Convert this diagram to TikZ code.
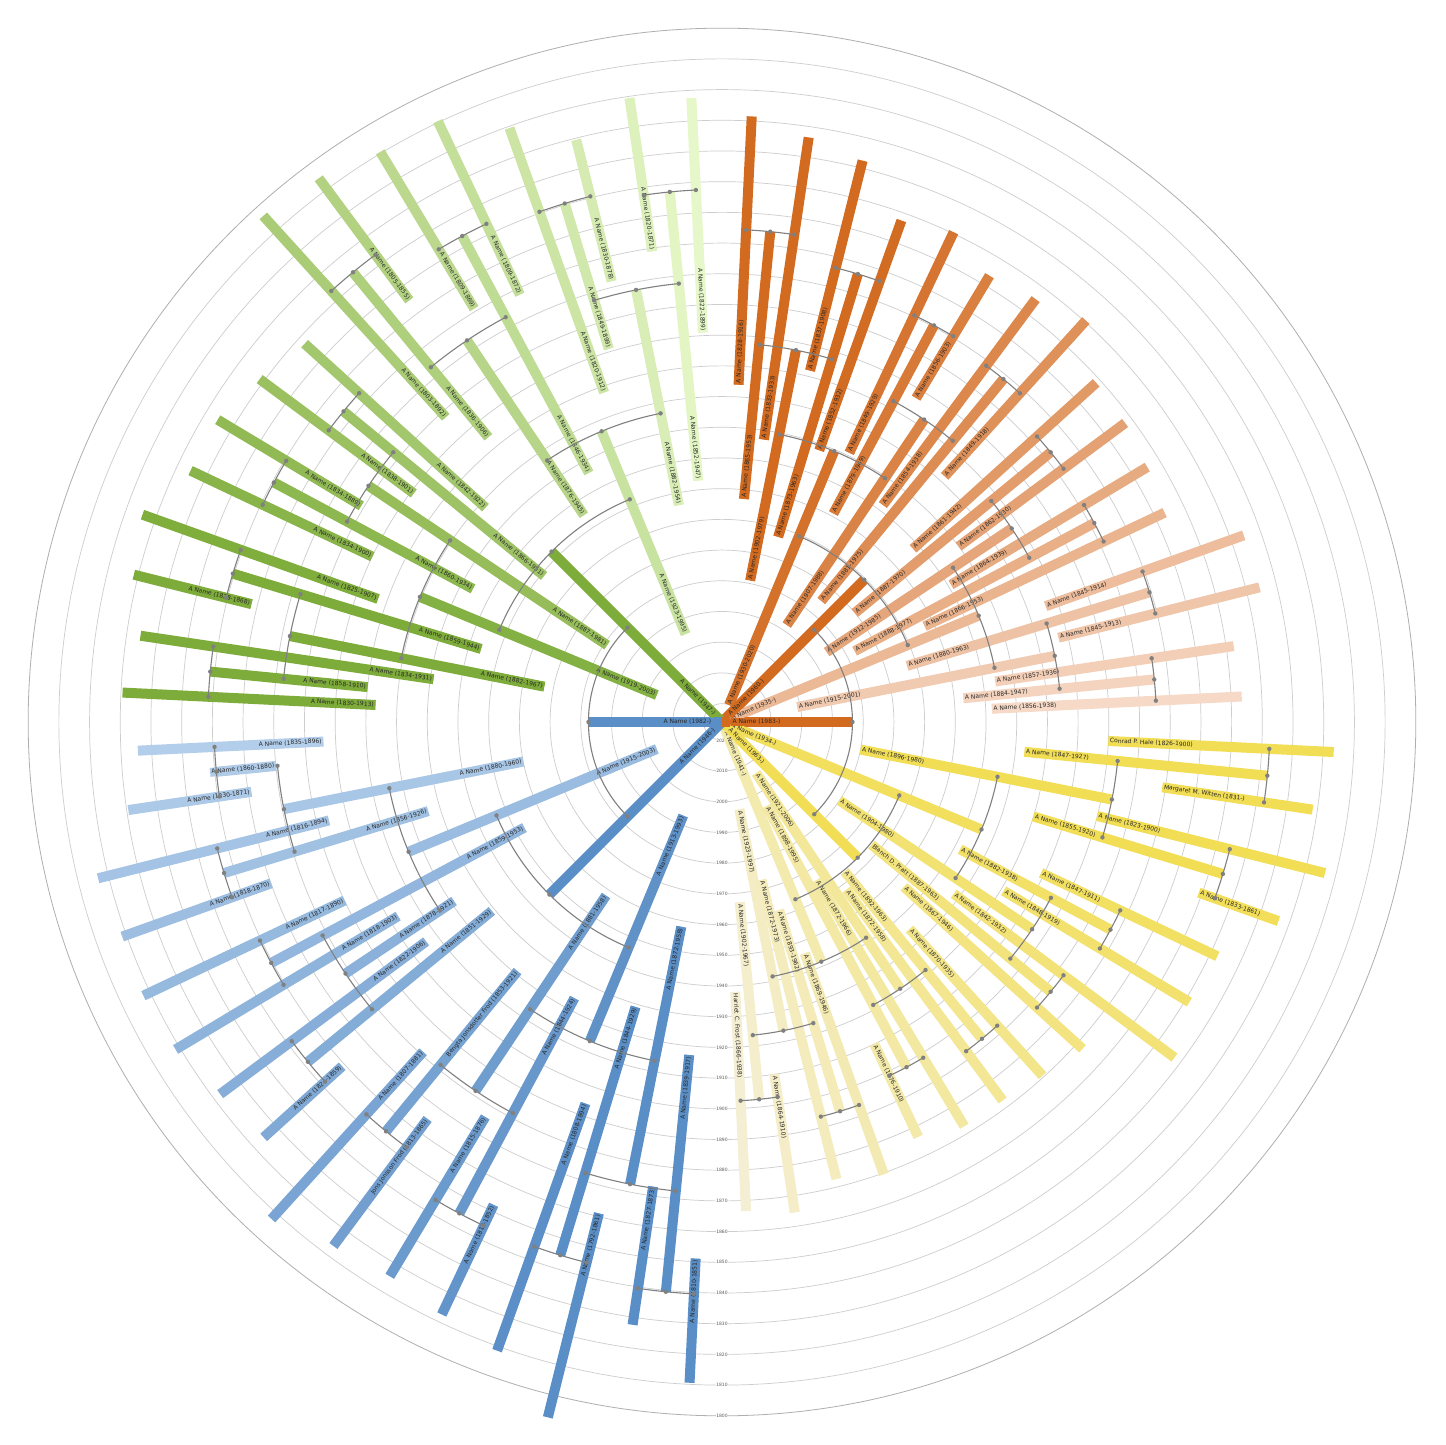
\documentclass[tikz,border=0pt]{standalone}
\usepackage{fontspec}
\setmainfont{DejaVu Sans}
\definecolor{oD}{RGB}{210,106,32}
\definecolor{oL}{RGB}{247,220,203}
\definecolor{yD}{RGB}{242,222,85}
\definecolor{yL}{RGB}{244,239,214}
\definecolor{bD}{RGB}{90,142,198}
\definecolor{bL}{RGB}{182,208,235}
\definecolor{gD}{RGB}{126,172,58}
\definecolor{gL}{RGB}{233,250,205}
\definecolor{connc}{RGB}{128,128,128}
\definecolor{ringc}{RGB}{205,205,205}
\definecolor{outerc}{RGB}{175,175,175}
\definecolor{labtext}{RGB}{40,40,40}
\definecolor{yeartext}{RGB}{90,90,90}
\pgfdeclarelayer{bg}
\pgfdeclarelayer{lab}
\pgfdeclarelayer{conn}
\pgfsetlayers{bg,main,lab,conn}
\tikzset{
  lifebar/.style={line width=10pt},
  lab/.style={font=\fontsize{6}{7}\selectfont, text=labtext, inner xsep=1.5pt, inner ysep=1.6pt, text height=4.5pt, text depth=1.2pt},
  yearlab/.style={font=\fontsize{4.5}{5}\selectfont, text=yeartext, fill=white, inner sep=0.6pt},
  ring/.style={draw=ringc, line width=0.7pt},
  connline/.style={draw=connc, line width=1.1pt},
}
\newcommand{\famperson}[5]{%
  \pgfmathsetmacro\rin{(2026-#3)*3.07}%
  \pgfmathsetmacro\rout{(2025.5-#2)*3.07}%
  \pgfmathsetmacro\rlab{max(\rin,9)}%
  \draw[lifebar,draw=#5] (#1:\rin) -- (#1:\rout);
  \pgfmathsetmacro\cosv{cos(#1)}%
  \begin{pgfonlayer}{lab}
  \ifdim\cosv pt>0pt
    \node[lab,fill=#5,rotate=#1,anchor=west] at (#1:\rlab) {#4};
  \else
    \node[lab,fill=#5,rotate=#1+180,anchor=east] at (#1:\rlab) {#4};
  \fi
  \end{pgfonlayer}
}
\newcommand{\famarc}[3]{%
  \pgfmathsetmacro\arcR{(2025.5-#2)*3.07}%
  \pgfmathsetmacro\arcA{#1-#3}%
  \pgfmathsetmacro\arcB{#1+#3}%
  \begin{pgfonlayer}{conn}
  \draw[connline] (\arcA:\arcR) arc[start angle=\arcA, end angle=\arcB, radius=\arcR];
  \fill[connc] (\arcA:\arcR) circle (2.2) (#1:\arcR) circle (2.2) (\arcB:\arcR) circle (2.2);
  \end{pgfonlayer}
}
\begin{document}
\begin{tikzpicture}[x=1pt,y=1pt]
\useasboundingbox (-722,-723) rectangle (723,722);
\begin{pgfonlayer}{bg}
\fill[white] (-722,-723) rectangle (723,722);
\foreach \yy in {2020,2010,...,1810}{\draw[ring] (0,0) circle ({(2026-\yy)*3.07});}
\draw[draw=outerc, line width=0.8pt] (0,0) circle ({226*3.07});
\foreach \yy in {2020,2010,...,1800}{\node[yearlab] at (0,{-(2026-\yy)*3.07}) {\yy};}
\end{pgfonlayer}

% ---------- orange quadrant ----------
\foreach \a/\b/\d/\t in {
 67.5/1930/2020/{A Name (1930-2020)}, 22.5/1935/2026/{A Name (1935-)},
 78.75/1902/1979/{A Name (1902-1979)}, 56.25/1907/1988/{A Name (1907-1988)},
 33.75/1912/1985/{A Name (1912-1985)}, 11.25/1915/2001/{A Name (1915-2001)},
 84.375/1865/1953/{A Name (1865-1953)}, 73.125/1873/1963/{A Name (1873-1963)},
 61.875/1879/1949/{A Name (1879-1949)}, 50.625/1881/1975/{A Name (1881-1975)},
 39.375/1887/1970/{A Name (1887-1970)}, 28.125/1888/1977/{A Name (1888-1977)},
 16.875/1880/1963/{A Name (1880-1963)}, 5.625/1884/1947/{A Name (1884-1947)},
 87.1875/1828/1916/{A Name (1828-1916)}, 81.5625/1833/1933/{A Name (1833-1933)},
 75.9375/1837/1908/{A Name (1837-1908)}, 70.3125/1852/1932/{A Name (1852-1932)},
 64.6875/1849/1929/{A Name (1849-1929)}, 59.0625/1856/1903/{A Name (1856-1903)},
 53.4375/1854/1938/{A Name (1854-1938)}, 47.8125/1849/1918/{A Name (1849-1918)},
 42.1875/1861/1942/{A Name (1861-1942)}, 36.5625/1862/1930/{A Name (1862-1930)},
 30.9375/1864/1939/{A Name (1864-1939)}, 25.3125/1866/1953/{A Name (1866-1953)},
 19.6875/1845/1914/{A Name (1845-1914)}, 14.0625/1845/1913/{A Name (1845-1913)},
 8.4375/1857/1936/{A Name (1857-1936)}, 2.8125/1856/1938/{A Name (1856-1938)}}{
 \pgfmathtruncatemacro\pc{min(100,1.4*\a)}
 \famperson{\a}{\b}{\d}{\t}{oD!\pc!oL}
}
% ---------- yellow quadrant ----------
\foreach \a/\b/\d/\t in {
 -22.5/1934/2026/{A Name (1934-)}, -67.5/1941/2026/{A Name (1941-)},
 -11.25/1896/1980/{A Name (1896-1980)}, -33.75/1904/1980/{A Name (1904-1980)},
 -56.25/1921/2006/{A Name (1921-2006)}, -78.75/1923/1997/{A Name (1923-1997)},
 -5.625/1847/1927/{A Name (1847-1927)}, -16.875/1855/1920/{A Name (1855-1920)},
 -28.125/1882/1938/{A Name (1882-1938)}, -39.375/1887/1963/{Blanch D. Pratt (1887-1963)},
 -50.625/1892/1963/{A Name (1892-1963)}, -61.875/1898/1995/{A Name (1898-1995)},
 -73.125/1893/1962/{A Name (1893-1962)}, -84.375/1902/1967/{A Name (1902-1967)},
 -2.8125/1826/1900/{Conrad P. Hale (1826-1900)}, -8.4375/1831/1881/{Margaret M. Witten (1831-)},
 -14.0625/1823/1900/{A Name (1823-1900)}, -19.6875/1833/1861/{A Name (1833-1861)},
 -25.3125/1847/1911/{A Name (1847-1911)}, -30.9375/1848/1919/{A Name (1848-1919)},
 -36.5625/1842/1932/{A Name (1842-1932)}, -42.1875/1867/1946/{A Name (1867-1946)},
 -47.8125/1870/1935/{A Name (1870-1935)}, -53.4375/1872/1958/{A Name (1872-1958)},
 -59.0625/1872/1966/{A Name (1872-1966)}, -64.6875/1876/1910/{A Name (1876-1910)},
 -70.3125/1869/1946/{A Name (1869-1946)}, -75.9375/1872/1973/{A Name (1872-1973)},
 -81.5625/1864/1910/{A Name (1864-1910)}, -87.1875/1866/1938/{Harriet C. Frost (1866-1938)}}{
 \pgfmathtruncatemacro\pc{min(100,1.4*(\a+90))}
 \famperson{\a}{\b}{\d}{\t}{yD!\pc!yL}
}
% ---------- blue quadrant ----------
\foreach \a/\b/\d/\t in {
 202.5/1915/2003/{A Name (1915-2003)}, 247.5/1913/1993/{A Name (1913-1993)},
 191.25/1880/1960/{A Name (1880-1960)}, 213.75/1878/1921/{A Name (1878-1921)},
 236.25/1881/1958/{A Name (1881-1958)}, 258.75/1872/1958/{A Name (1872-1958)},
 185.625/1860/1880/{A Name (1860-1880)}, 196.875/1856/1926/{A Name (1856-1926)},
 208.125/1859/1953/{A Name (1859-1953)}, 219.375/1851/1929/{A Name (1851-1929)},
 230.625/1853/1921/{Bengta Jonsdotter Frod (1853-1921)}, 241.875/1844/1924/{A Name (1844-1924)},
 253.125/1844/1929/{A Name (1844-1929)}, 264.375/1839/1917/{A Name (1839-1917)},
 182.8125/1835/1896/{A Name (1835-1896)}, 188.4375/1830/1871/{A Name (1830-1871)},
 194.0625/1816/1894/{A Name (1816-1894)}, 199.6875/1818/1870/{A Name (1818-1870)},
 205.3125/1817/1890/{A Name (1817-1890)}, 210.9375/1818/1903/{A Name (1818-1903)},
 216.5625/1822/1906/{A Name (1822-1906)}, 222.1875/1824/1859/{A Name (1824-1859)},
 227.8125/1807/1881/{A Name (1807-1881)}, 233.4375/1813/1865/{Jons Jonsson Frod (1813-1865)},
 239.0625/1815/1876/{A Name (1815-1876)}, 244.6875/1812/1852/{A Name (1812-1852)},
 250.3125/1808/1894/{A Name (1808-1894)}, 255.9375/1792/1861/{A Name (1792-1861)},
 261.5625/1827/1873/{A Name (1827-1873)}, 267.1875/1810/1851/{A Name (1810-1851)}}{
 \pgfmathtruncatemacro\pc{min(100,1.4*(\a-180))}
 \famperson{\a}{\b}{\d}{\t}{bD!\pc!bL}
}
% ---------- green quadrant ----------
\foreach \a/\b/\d/\t in {
 157.5/1919/2003/{A Name (1919-2003)}, 112.5/1923/1995/{A Name (1923-1995)},
 168.75/1882/1967/{A Name (1882-1967)}, 146.25/1887/1981/{A Name (1887-1981)},
 123.75/1876/1945/{A Name (1876-1945)}, 101.25/1882/1954/{A Name (1882-1954)},
 174.375/1858/1910/{A Name (1858-1910)}, 163.125/1859/1944/{A Name (1859-1944)},
 151.875/1860/1934/{A Name (1860-1934)}, 140.625/1866/1951/{A Name (1866-1951)},
 129.375/1836/1906/{A Name (1836-1906)}, 118.125/1846/1934/{A Name (1846-1934)},
 106.875/1849/1899/{A Name (1849-1899)}, 95.625/1852/1947/{A Name (1852-1947)},
 177.1875/1830/1913/{A Name (1830-1913)}, 171.5625/1834/1931/{A Name (1834-1931)},
 165.9375/1828/1868/{A Name (1828-1868)}, 160.3125/1825/1907/{A Name (1825-1907)},
 154.6875/1834/1900/{A Name (1834-1900)}, 149.0625/1834/1889/{A Name (1834-1889)},
 143.4375/1838/1901/{A Name (1838-1901)}, 137.8125/1842/1922/{A Name (1842-1922)},
 132.1875/1803/1892/{A Name (1803-1892)}, 126.5625/1805/1855/{A Name (1805-1855)},
 120.9375/1809/1869/{A Name (1809-1869)}, 115.3125/1809/1872/{A Name (1809-1872)},
 109.6875/1820/1912/{A Name (1820-1912)}, 104.0625/1830/1878/{A Name (1830-1878)},
 98.4375/1820/1871/{A Name (1820-1871)}, 92.8125/1822/1899/{A Name (1822-1899)}}{
 \pgfmathtruncatemacro\pc{min(100,1.4*(\a-90))}
 \famperson{\a}{\b}{\d}{\t}{gD!\pc!gL}
}
% ---------- parents of the two roots, and the roots ----------
\famperson{-45}{1963}{2026}{A Name (1963-)}{yD}
\famperson{225}{1946}{2026}{A Name (1946-)}{bD}
\famperson{45}{1960}{2026}{A Name (1960-)}{oD}
\famperson{135}{1947}{2026}{A Name (1947-)}{gD}
\famperson{0}{1983}{2026}{A Name (1983-)}{oD}
\famperson{180}{1982}{2026}{A Name (1982-)}{bD}

% ---------- parent connectors ----------
\famarc{0}{1983}{45}
\famarc{180}{1982}{45}
\foreach \a/\b/\w in {45/1960/22.5, -45/1963/22.5, 135/1947/22.5, 225/1946/22.5,
 67.5/1930/11.25, 22.5/1935/11.25, -22.5/1934/11.25, -67.5/1941/11.25,
 157.5/1919/11.25, 112.5/1923/11.25, 202.5/1915/11.25, 247.5/1913/11.25,
 78.75/1902/5.625, 56.25/1907/5.625, 33.75/1912/5.625, 11.25/1915/5.625,
 -11.25/1896/5.625, -33.75/1904/5.625, -56.25/1921/5.625, -78.75/1923/5.625,
 191.25/1880/5.625, 213.75/1878/5.625, 236.25/1881/5.625, 258.75/1872/5.625,
 168.75/1882/5.625, 146.25/1887/5.625, 123.75/1876/5.625, 101.25/1882/5.625}{
 \famarc{\a}{\b}{\w}
}
\foreach \a/\b in {84.375/1865, 73.125/1873, 61.875/1879, 50.625/1881, 39.375/1887, 28.125/1888, 16.875/1880, 5.625/1884,
 -5.625/1847, -16.875/1855, -28.125/1882, -39.375/1887, -50.625/1892, -61.875/1898, -73.125/1893, -84.375/1902,
 185.625/1860, 196.875/1856, 208.125/1859, 219.375/1851, 230.625/1853, 241.875/1844, 253.125/1844, 264.375/1839,
 174.375/1858, 163.125/1859, 151.875/1860, 140.625/1866, 129.375/1836, 118.125/1846, 106.875/1849, 95.625/1852}{
 \famarc{\a}{\b}{2.8125}
}
\end{tikzpicture}
\end{document}
